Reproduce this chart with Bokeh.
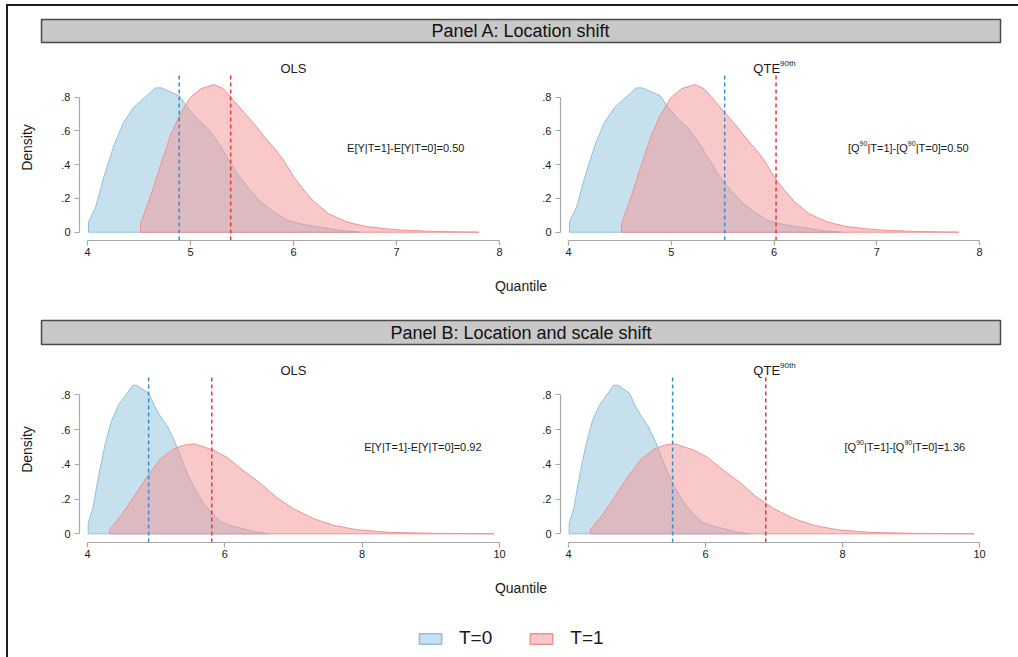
from bokeh.plotting import figure
from bokeh.models import Range1d, FixedTicker, Label, Spacer, Legend, LegendItem
from bokeh.layouts import column, row
from bokeh.embed import file_html
from bokeh.resources import INLINE

FONT = "Liberation Sans"
INK = "#1a1a1a"

# ---------------- data ----------------
# T=0 density (same in every panel)
T0_X = [4.01, 4.08, 4.16, 4.26, 4.35, 4.45, 4.56, 4.66, 4.72, 4.81, 4.89, 4.97, 5.07,
        5.16, 5.26, 5.36, 5.45, 5.55, 5.68, 5.81, 5.94, 6.10, 6.26, 6.46, 6.65]
T0_Y = [0.06, 0.15, 0.33, 0.52, 0.65, 0.74, 0.80, 0.855, 0.855, 0.83, 0.81, 0.74, 0.67,
        0.62, 0.54, 0.44, 0.35, 0.27, 0.18, 0.12, 0.07, 0.045, 0.03, 0.01, 0.0]
# T=1 density, Panel A (location shift)
T1A_X = [4.515, 4.61, 4.71, 4.81, 4.90, 5.00, 5.10, 5.23, 5.32, 5.42, 5.52, 5.62, 5.71,
         5.81, 5.90, 6.00, 6.10, 6.20, 6.34, 6.52, 6.70, 6.90, 7.04, 7.37, 7.80]
T1A_Y = [0.05, 0.21, 0.40, 0.58, 0.70, 0.80, 0.85, 0.875, 0.85, 0.78, 0.71, 0.64, 0.57,
         0.50, 0.43, 0.33, 0.25, 0.18, 0.11, 0.06, 0.034, 0.02, 0.013, 0.004, 0.0]
# T=1 density, Panel B (location and scale shift)
T1B_X = [4.32, 4.48, 4.67, 4.87, 5.06, 5.26, 5.40, 5.55, 5.69, 5.84, 6.03, 6.28, 6.52,
         6.75, 7.00, 7.30, 7.59, 7.93, 8.41, 9.00, 9.92]
T1B_Y = [0.025, 0.10, 0.21, 0.33, 0.43, 0.49, 0.51, 0.518, 0.50, 0.48, 0.44, 0.36, 0.29,
         0.21, 0.144, 0.086, 0.048, 0.023, 0.008, 0.003, 0.0]

PANEL_TITLES = ["Panel A: Location shift", "Panel B: Location and scale shift"]
X_TICKS_A = [4, 5, 6, 7, 8]
X_TICKS_B = [4, 6, 8, 10]
Y_TICKS = [0, 0.2, 0.4, 0.6, 0.8]
Y_TICK_LABELS = ["0", ".2", ".4", ".6", ".8"]
# vertical reference lines: (T=0 value, T=1 value)
VLINES_A = [(4.89, 5.39), (5.52, 6.02)]
VLINES_B = [(4.89, 5.81), (5.52, 6.88)]
# sub-plot titles and notes as (text, superscript?) runs
TITLE_OLS = [("OLS", False)]
TITLE_QTE = [("QTE", False), ("90th", True)]
NOTES_A = [[("E[Y|T=1]-E[Y|T=0]=0.50", False)],
           [("[Q", False), ("90", True), ("|T=1]-[Q", False), ("90", True), ("|T=0]=0.50", False)]]
NOTES_B = [[("E[Y|T=1]-E[Y|T=0]=0.92", False)],
           [("[Q", False), ("90", True), ("|T=1]-[Q", False), ("90", True), ("|T=0]=1.36", False)]]
NOTE_X_A = [6.52, 6.72]
NOTE_X_B = [8.03, 8.03]
NOTE_Y = 0.5
LEGEND_LABELS = ["T=0", "T=1"]

# ---------------- styles ----------------
BLUE_FILL, BLUE_LINE, BLUE_DASH = "#8fc2dc", "#8cc1dc", "#3a8ccc"
RED_FILL, RED_LINE, RED_DASH = "#f39494", "#f19191", "#e8383d"
AXIS_GREY = "#a8a8a8"

FRAME_W = 428          # frame width of each small plot
PLOT_H = 166           # height of the dashed-line region (axis to top of dashes)
TOP_EXTRA = 20         # extra frame height above the dashes, holds the sub-title
PAD_X = 8

# Arial-like advance widths (per em) used to lay out mixed superscript runs
ADV = {"[": .278, "]": .278, "Q": .778, "|": .26, "T": .611, "=": .584, "-": .333,
       ".": .278, "E": .667, "Y": .667, "O": .778, "L": .556, "S": .667, "t": .278, "h": .556}


def run_width(text, size):
    return sum(ADV.get(c, .556) for c in text) * size


def rich_text(p, runs, x, y, size, sup_size, sup_rise, x_units="data", y_units="data",
              x_shift=0.0, baseline="middle"):
    off = x_shift
    for txt, sup in runs:
        fs = sup_size if sup else size
        p.add_layout(Label(x=x, y=y, x_units=x_units, y_units=y_units, text=txt,
                           x_offset=off, y_offset=sup_rise if sup else 0,
                           text_align="left", text_baseline=baseline,
                           text_font=FONT, text_font_size=f"{fs}px", text_color=INK))
        off += run_width(txt, fs)


def strip(width, height, bl=33, br=18, bt=0, bb=0):
    p = figure(width=width, height=height, x_range=Range1d(0, 1), y_range=Range1d(0, 1),
               output_backend="svg", toolbar_location=None,
               x_axis_location=None, y_axis_location=None,
               min_border_left=bl, min_border_right=br, min_border_top=bt, min_border_bottom=bb)
    p.grid.visible = False
    p.outline_line_color = None
    p.background_fill_color = None
    p.border_fill_color = None
    return p


def panel_bar(text, height, top):
    p = strip(1010, height, bt=top, bb=6)
    p.background_fill_color = "#c8c8c8"
    p.outline_line_color = "#4a4a4a"
    p.outline_line_width = 1.5
    p.add_layout(Label(x=0.5, y=0.5, text=text, text_align="center", text_baseline="middle",
                       text_font=FONT, text_font_size="18px", text_color="#111111"))
    return p


def quantile_strip():
    p = strip(1010, 30)
    p.add_layout(Label(x=0.5, y=0.5, text="Quantile", text_align="center", text_baseline="middle",
                       text_font=FONT, text_font_size="14px", text_color=INK))
    return p


def subplot(col, title_runs, xticks, t1x, t1y, vlines, note_runs, note_x, ybot, ytop):
    left = col == 0
    width = 531 if left else 479
    bl = 71 if left else 20
    br = 32 if left else 31
    xlo, xhi = xticks[0], xticks[-1]
    ppx = (FRAME_W - 2 * PAD_X) / (xhi - xlo)
    xr = Range1d(xlo - PAD_X / ppx, xhi + PAD_X / ppx)
    ppy = (PLOT_H - ybot - ytop) / Y_TICKS[-1]
    y_lo = -ybot / ppy
    dash_top = Y_TICKS[-1] + ytop / ppy
    yr = Range1d(y_lo, Y_TICKS[-1] + (ytop + TOP_EXTRA) / ppy)
    p = figure(width=width, height=222, x_range=xr, y_range=yr,
               output_backend="svg", toolbar_location=None,
               min_border_left=bl, min_border_right=br,
               min_border_top=26 - TOP_EXTRA, min_border_bottom=30)
    p.border_fill_color = None
    p.background_fill_color = None
    p.outline_line_color = None
    p.grid.visible = False

    # densities
    p.patch([T0_X[0]] + T0_X + [T0_X[-1]], [0] + T0_Y + [0],
            fill_color=BLUE_FILL, fill_alpha=0.5, line_color=BLUE_LINE, line_width=1)
    p.patch([t1x[0]] + t1x + [t1x[-1]], [0] + t1y + [0],
            fill_color=RED_FILL, fill_alpha=0.5, line_color=RED_LINE, line_width=1)

    # dashed reference lines (from the x axis up to the top of the plot region)
    p.segment(x0=[vlines[0]], y0=[y_lo], x1=[vlines[0]], y1=[dash_top],
              line_color=BLUE_DASH, line_dash="4 3", line_width=1.5)
    p.segment(x0=[vlines[1]], y0=[y_lo], x1=[vlines[1]], y1=[dash_top],
              line_color=RED_DASH, line_dash="4 3", line_width=1.5)

    # note inside the plot
    rich_text(p, note_runs, note_x, NOTE_Y, 11, 7, 4)
    # sub-title, placed in the frame's top strip
    tw = sum(run_width(t, 8 if s else 13) for t, s in title_runs)
    rich_text(p, title_runs, FRAME_W / 2, PLOT_H + 6, 13, 8, 5, x_units="screen",
              y_units="screen", x_shift=-tw / 2, baseline="alphabetic")

    for ax in (p.xaxis[0], p.yaxis[0]):
        ax.axis_line_color = AXIS_GREY
        ax.axis_line_width = 1.2
        ax.major_tick_line_color = AXIS_GREY
        ax.major_tick_line_width = 1.2
        ax.major_tick_in = 0
        ax.major_tick_out = 5
        ax.minor_tick_line_color = None
        ax.major_label_text_font = FONT
        ax.major_label_text_font_size = "11px"
        ax.major_label_text_color = INK
    p.xaxis.ticker = FixedTicker(ticks=xticks)
    p.xaxis.bounds = (xlo, xhi)
    p.xaxis.major_label_standoff = 2
    p.yaxis.ticker = FixedTicker(ticks=Y_TICKS)
    p.yaxis.major_label_overrides = dict(zip(Y_TICKS, Y_TICK_LABELS))
    p.yaxis.bounds = (Y_TICKS[0], Y_TICKS[-1])
    p.yaxis.major_label_standoff = 4
    if left:
        p.yaxis.axis_label = "Density"
        p.yaxis.axis_label_text_font = FONT
        p.yaxis.axis_label_text_font_size = "14px"
        p.yaxis.axis_label_text_font_style = "normal"
        p.yaxis.axis_label_text_color = INK
        p.yaxis.axis_label_standoff = 23
    return p


barA = panel_bar(PANEL_TITLES[0], 42, 13)
rowA = row(subplot(0, TITLE_OLS, X_TICKS_A, T1A_X, T1A_Y, VLINES_A[0], NOTES_A[0], NOTE_X_A[0], 8.3, 22.7),
           subplot(1, TITLE_QTE, X_TICKS_A, T1A_X, T1A_Y, VLINES_A[1], NOTES_A[1], NOTE_X_A[1], 8.3, 22.7))
barB = panel_bar(PANEL_TITLES[1], 50, 20)
rowB = row(subplot(0, TITLE_OLS, X_TICKS_B, T1B_X, T1B_Y, VLINES_B[0], NOTES_B[0], NOTE_X_B[0], 8.7, 18.3),
           subplot(1, TITLE_QTE, X_TICKS_B, T1B_X, T1B_Y, VLINES_B[1], NOTES_B[1], NOTE_X_B[1], 8.7, 18.3))

# legend strip: the density patches are drawn here too but fall outside its (0..1) view
leg = strip(1010, 55, bt=17, bb=0)
r0 = leg.patch(x=T0_X, y=T0_Y, fill_color=BLUE_FILL, fill_alpha=0.5, line_color=BLUE_LINE, line_width=1.5)
r1 = leg.patch(x=T1A_X, y=T1A_Y, fill_color=RED_FILL, fill_alpha=0.5, line_color=RED_LINE, line_width=1.5)
legend = Legend(items=[LegendItem(label=LEGEND_LABELS[0], renderers=[r0]),
                       LegendItem(label=LEGEND_LABELS[1], renderers=[r1])],
                location=(375, 8), orientation="horizontal",
                glyph_width=28, glyph_height=13, label_standoff=15, spacing=35,
                padding=0, margin=0, border_line_color=None, background_fill_alpha=0,
                label_text_font=FONT, label_text_font_size="19px", label_text_color=INK)
leg.add_layout(legend, "center")

content = column(barA, rowA, quantile_strip(), barB, rowB, quantile_strip(), leg)

BLK = {"background-color": "#1e1e1e"}
root = column(
    Spacer(width=1018, height=4),
    row(Spacer(width=6, height=2), Spacer(width=1012, height=2, styles=BLK)),
    row(Spacer(width=6, height=651), Spacer(width=2, height=651, styles=BLK), content),
)

open("out.html", "w").write(file_html(root, INLINE))
